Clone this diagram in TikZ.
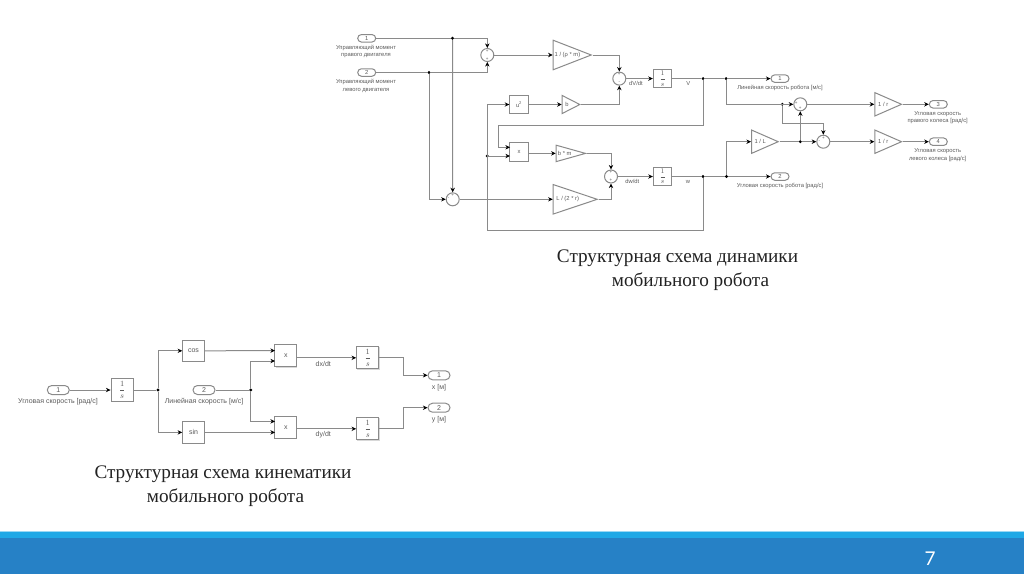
\documentclass[tikz,border=0pt]{standalone}
\usepackage{fontspec}
\setmainfont{Liberation Serif}
\setsansfont{Liberation Sans}
\usetikzlibrary{shapes.geometric,shapes.misc,arrows.meta,shadows}
\definecolor{wire}{HTML}{8A8A8A}
\definecolor{tag}{HTML}{5A5A5A}
\definecolor{band}{HTML}{2681C6}
\definecolor{stripe}{HTML}{1FA8E6}
\definecolor{title}{HTML}{222222}
\tikzset{
  flow/.style={draw=wire, line width=1pt, -{Stealth[length=4.6pt,width=4.4pt,color=black]}},
  line/.style={draw=wire, line width=1pt},
  dotjoin/.style={circle, fill=black, inner sep=0pt, minimum size=3.2pt},
  tagtext/.style={font=\sffamily\fontsize{5.8}{7.6}\selectfont, text=tag, align=center, inner sep=0pt},
  bigtag/.style={tagtext, font=\sffamily\fontsize{7}{8}\selectfont},
  sumnode/.style={circle, draw=wire, fill=white, line width=1pt, inner sep=0pt, minimum size=13pt},
  signmark/.style={font=\sffamily\fontsize{4.5}{4.5}\selectfont, inner sep=0pt, text=tag},
  blocknode/.style={rectangle, draw=wire, fill=white, line width=1pt, inner sep=0pt,
    drop shadow={shadow xshift=.7pt, shadow yshift=-.7pt, fill=black!30},
    font=\sffamily\fontsize{5.8}{6}\selectfont, text=tag},
  gainnode/.style={isosceles triangle, isosceles triangle stretches, shape border rotate=0,
    anchor=lower side, draw=wire, fill=white, line width=1pt, inner sep=0pt,
    font=\sffamily\fontsize{5.8}{6}\selectfont, text=tag},
  pillnode/.style={rounded rectangle, draw=wire, fill=white, line width=1pt, inner sep=0pt,
    minimum width=18pt, minimum height=7.5pt, font=\sffamily\fontsize{5.8}{6}\selectfont, text=tag},
  bigpill/.style={pillnode, minimum width=22pt, minimum height=9pt, font=\sffamily\fontsize{7}{8}\selectfont},
  heading/.style={font=\fontsize{19.2}{22}\selectfont, text=title, inner sep=0pt}
}
\begin{document}
\begin{tikzpicture}[x=1pt, y=-1pt]
  \useasboundingbox (0,0) rectangle (1024,574);
  \fill[band] (0,531) rectangle (1024,574);
  \fill[stripe] (0,532) rectangle (1024,538);
  \fill[stripe!45!white] (0,531) rectangle (1024,532);
  \node[text=white, font=\fontspec{Lato}\fontsize{19}{19}\selectfont, inner sep=0pt] (pagenum) at (930,558.5) {7};

  \node[pillnode] (inA) at (366.7,38.3) {1};
  \node[pillnode] (inB) at (366.7,72.5) {2};
  \node[tagtext] (inAtag) at (366,51.5) {Управляющий момент\\правого двигателя};
  \node[tagtext] (inBtag) at (366,86.2) {Управляющий момент\\левого двигателя};

  \foreach \n/\x/\y in {sumA/487.3/55,sumB/619.3/78.6,sumC/452.7/199.3,sumD/800.3/104.3,sumE/823.3/141.7,sumF/611/176.5} {
    \node[sumnode] (\n) at (\x,\y) {};
  }
  \foreach \n/\x/\y/\s in {sgA/487.3/51/+,sgB/487.3/59/+,sgC/619.3/74.6/+,sgD/619.3/82.6/-,sgE/611/172.5/+,sgF/611/180.5/+,sgG/448.7/199.3/-,sgH/452.7/195.3/+,sgI/796.3/103/+,sgJ/800.3/108/+,sgK/819.3/141.7/-,sgL/823.3/137.7/+} {
    \node[signmark] (\n) at (\x,\y) {\s};
  }

  \node[gainnode, minimum width=29.5pt, minimum height=38pt] (gainA) at (552.7,55) {1 / (ρ * m)};
  \node[gainnode, minimum width=18pt, minimum height=17.6pt] (gainB) at (561.7,104.5) {b};
  \node[gainnode, minimum width=16.4pt, minimum height=29.3pt] (gainC) at (555.7,153.4) {b * m};
  \node[gainnode, minimum width=29.5pt, minimum height=44pt] (gainD) at (552.7,199.3) {L / (2 * r)};
  \node[gainnode, minimum width=23.4pt, minimum height=26.7pt] (gainE) at (751,141.7) {1 / L};
  \node[gainnode, minimum width=23.4pt, minimum height=26.7pt] (gainF) at (874.3,104.3) {1 / r};
  \node[gainnode, minimum width=23.4pt, minimum height=26.7pt] (gainG) at (874.3,141.7) {1 / r};

  \node[blocknode, minimum width=18.4pt, minimum height=18pt] (sqr) at (519,104.5) {u\textsuperscript{2}};
  \node[blocknode, minimum width=18.4pt, minimum height=19pt] (mulA) at (519,152) {x};
  \node[blocknode, minimum width=18.4pt, minimum height=17.5pt, font=\fontsize{6.6}{6.6}\selectfont] (intA) at (662.5,78.6) {$\displaystyle\frac{1}{s}$};
  \node[blocknode, minimum width=18.4pt, minimum height=18.4pt, font=\fontsize{6.6}{6.6}\selectfont] (intB) at (662.5,176.5) {$\displaystyle\frac{1}{s}$};

  \node[pillnode] (outA) at (780,78.6) {1};
  \node[pillnode] (outB) at (780,176.5) {2};
  \node[pillnode] (outC) at (938.3,104.3) {3};
  \node[pillnode] (outD) at (938.3,141.7) {4};
  \node[tagtext] (outAtag) at (780,88) {Линейная скорость робота [м/с]};
  \node[tagtext] (outBtag) at (780,185.8) {Угловая скорость робота [рад/с]};
  \node[tagtext] (outCtag) at (937.7,117.8) {Угловая скорость\\правого колеса [рад/с]};
  \node[tagtext] (outDtag) at (937.7,155.2) {Угловая скорость\\левого колеса [рад/с]};
  \node[tagtext] (dvtag) at (636,83.5) {dV/dt};
  \node[tagtext] (dwtag) at (632.3,181.3) {dw/dt};
  \node[tagtext] (vtag) at (688.3,83.5) {V};
  \node[tagtext] (wtag) at (688,181.5) {w};

  \node[dotjoin] (jA) at (452.5,38.3) {};
  \node[dotjoin] (jB) at (429,72.5) {};
  \node[dotjoin] (jC) at (703,78.6) {};
  \node[dotjoin] (jD) at (726,78.6) {};
  \node[dotjoin] (jE) at (782.3,104.3) {};
  \node[dotjoin] (jF) at (800.3,141.7) {};
  \node[dotjoin] (jG) at (703,176.5) {};
  \node[dotjoin] (jH) at (726.5,176.5) {};
  \node[dotjoin] (jI) at (487.3,156) {};
  \coordinate (cA) at (703,125.3);
  \coordinate (cB) at (498.3,125.3);
  \coordinate (cC) at (498.3,147.3);
  \coordinate (cD) at (510,147.3);
  \coordinate (cE) at (703,230.3);
  \coordinate (cF) at (487.3,230.3);
  \coordinate (cG) at (487.3,104.5);
  \coordinate (cH) at (510,156);
  \coordinate (cI) at (782.3,123);
  \coordinate (cJ) at (823.3,123);

  \draw[line] (inA.east) -- (jA);
  \draw[flow] (jA) -| (sumA.north);
  \draw[line] (inB.east) -- (jB);
  \draw[flow] (jB) -| (sumA.south);
  \draw[flow] (jA) -- (sumC.north);
  \draw[flow] (jB) |- (sumC.west);
  \draw[flow] (sumA.east) -- (gainA.lower side);
  \draw[flow] (gainA.apex) -| (sumB.north);
  \draw[flow] (gainB.apex) -| (sumB.south);
  \draw[flow] (sumB.east) -- (intA.west);
  \draw[flow] (sqr.east) -- (gainB.lower side);
  \draw[flow] (mulA.east |- gainC.lower side) -- (gainC.lower side);
  \draw[flow] (gainC.apex) -| (sumF.north);
  \draw[flow] (gainD.apex) -| (sumF.south);
  \draw[flow] (sumF.east) -- (intB.west);
  \draw[flow] (sumC.east) -- (gainD.lower side);
  \draw[line] (intA.east) -- (jC);
  \draw[line] (jC) -- (jD);
  \draw[flow] (jD) -- (outA.west);
  \draw[line] (intB.east) -- (jG);
  \draw[line] (jG) -- (jH);
  \draw[flow] (jH) -- (outB.west);
  \draw[flow] (jC) -- (cA) -- (cB) -- (cC) -- (cD);
  \draw[flow] (jG) -- (cE) -- (cF) -- (cG) -- (sqr.west);
  \draw[flow] (jI) -- (cH);
  \draw[flow] (jD) |- (sumD.west);
  \draw[flow] (jE) -- (cI) -- (cJ) -- (sumE.north);
  \draw[flow] (jH) |- (gainE.lower side);
  \draw[line] (gainE.apex) -- (jF);
  \draw[flow] (jF) -- (sumE.west);
  \draw[flow] (jF) -- (sumD.south);
  \draw[flow] (sumD.east) -- (gainF.lower side);
  \draw[flow] (sumE.east) -- (gainG.lower side);
  \draw[flow] (gainF.apex) -- (outC.west);
  \draw[flow] (gainG.apex) -- (outD.west);

  \node[heading] (headA) at (677.5,258) {Структурная схема динамики};
  \node[heading] (headB) at (690.5,282) {мобильного робота};

  \node[bigpill] (inK) at (58.3,390) {1};
  \node[bigpill] (inL) at (204,390) {2};
  \node[bigtag] (inKtag) at (58,402) {Угловая скорость [рад/с]};
  \node[bigtag] (inLtag) at (204,402) {Линейная скорость [м/с]};
  \node[blocknode, minimum width=22.3pt, minimum height=22.3pt, font=\fontsize{8.4}{8.4}\selectfont] (intK) at (122.2,390) {$\displaystyle\frac{1}{s}$};
  \node[blocknode, minimum width=21.6pt, minimum height=21.6pt, font=\sffamily\fontsize{7}{8}\selectfont] (cosK) at (193.5,350.8) {cos};
  \node[blocknode, minimum width=21.6pt, minimum height=21.6pt, font=\sffamily\fontsize{7}{8}\selectfont] (sinK) at (193.5,432.4) {sin};
  \node[blocknode, minimum width=21.7pt, minimum height=22.3pt, font=\sffamily\fontsize{7}{8}\selectfont] (mulK) at (285.8,355.8) {x};
  \node[blocknode, minimum width=21.7pt, minimum height=22.3pt, font=\sffamily\fontsize{7}{8}\selectfont] (mulL) at (285.8,427.2) {x};
  \node[blocknode, minimum width=22.3pt, minimum height=22.3pt, font=\fontsize{8.4}{8.4}\selectfont] (intL) at (367.8,357.8) {$\displaystyle\frac{1}{s}$};
  \node[blocknode, minimum width=22.3pt, minimum height=22.3pt, font=\fontsize{8.4}{8.4}\selectfont] (intM) at (367.8,428.8) {$\displaystyle\frac{1}{s}$};
  \node[bigpill] (outK) at (439,375.3) {1};
  \node[bigpill] (outL) at (439,407.7) {2};
  \node[bigtag] (outKtag) at (439,387.7) {x [м]};
  \node[bigtag] (outLtag) at (439,419.7) {y [м]};
  \node[bigtag] (dxtag) at (323.3,363.7) {dx/dt};
  \node[bigtag] (dytag) at (323.3,435) {dy/dt};

  \node[dotjoin] (jK) at (158,390) {};
  \node[dotjoin] (jL) at (250.7,390) {};
  \coordinate (cK) at (275,350.6);
  \coordinate (cL) at (275,361);
  \coordinate (cM) at (275,421.4);
  \coordinate (cN) at (275,432.4);
  \coordinate (cO) at (403.3,375.3);
  \coordinate (cP) at (403.3,407.7);

  \draw[flow] (inK.east) -- (intK.west);
  \draw[line] (intK.east) -- (jK);
  \draw[flow] (jK) |- (cosK.west);
  \draw[flow] (jK) |- (sinK.west);
  \draw[line] (inL.east) -- (jL);
  \draw[flow] (cosK.east) -- (cK);
  \draw[flow] (sinK.east) -- (cN);
  \draw[flow] (jL) |- (cL);
  \draw[flow] (jL) |- (cM);
  \draw[flow] (mulK.east |- intL.west) -- (intL.west);
  \draw[flow] (mulL.east |- intM.west) -- (intM.west);
  \draw[flow] (intL.east) -| (cO) -- (outK.west);
  \draw[flow] (intM.east) -| (cP) -- (outL.west);

  \node[heading] (headC) at (223,474) {Структурная схема кинематики};
  \node[heading] (headD) at (225.5,498) {мобильного робота};
\end{tikzpicture}
\end{document}
